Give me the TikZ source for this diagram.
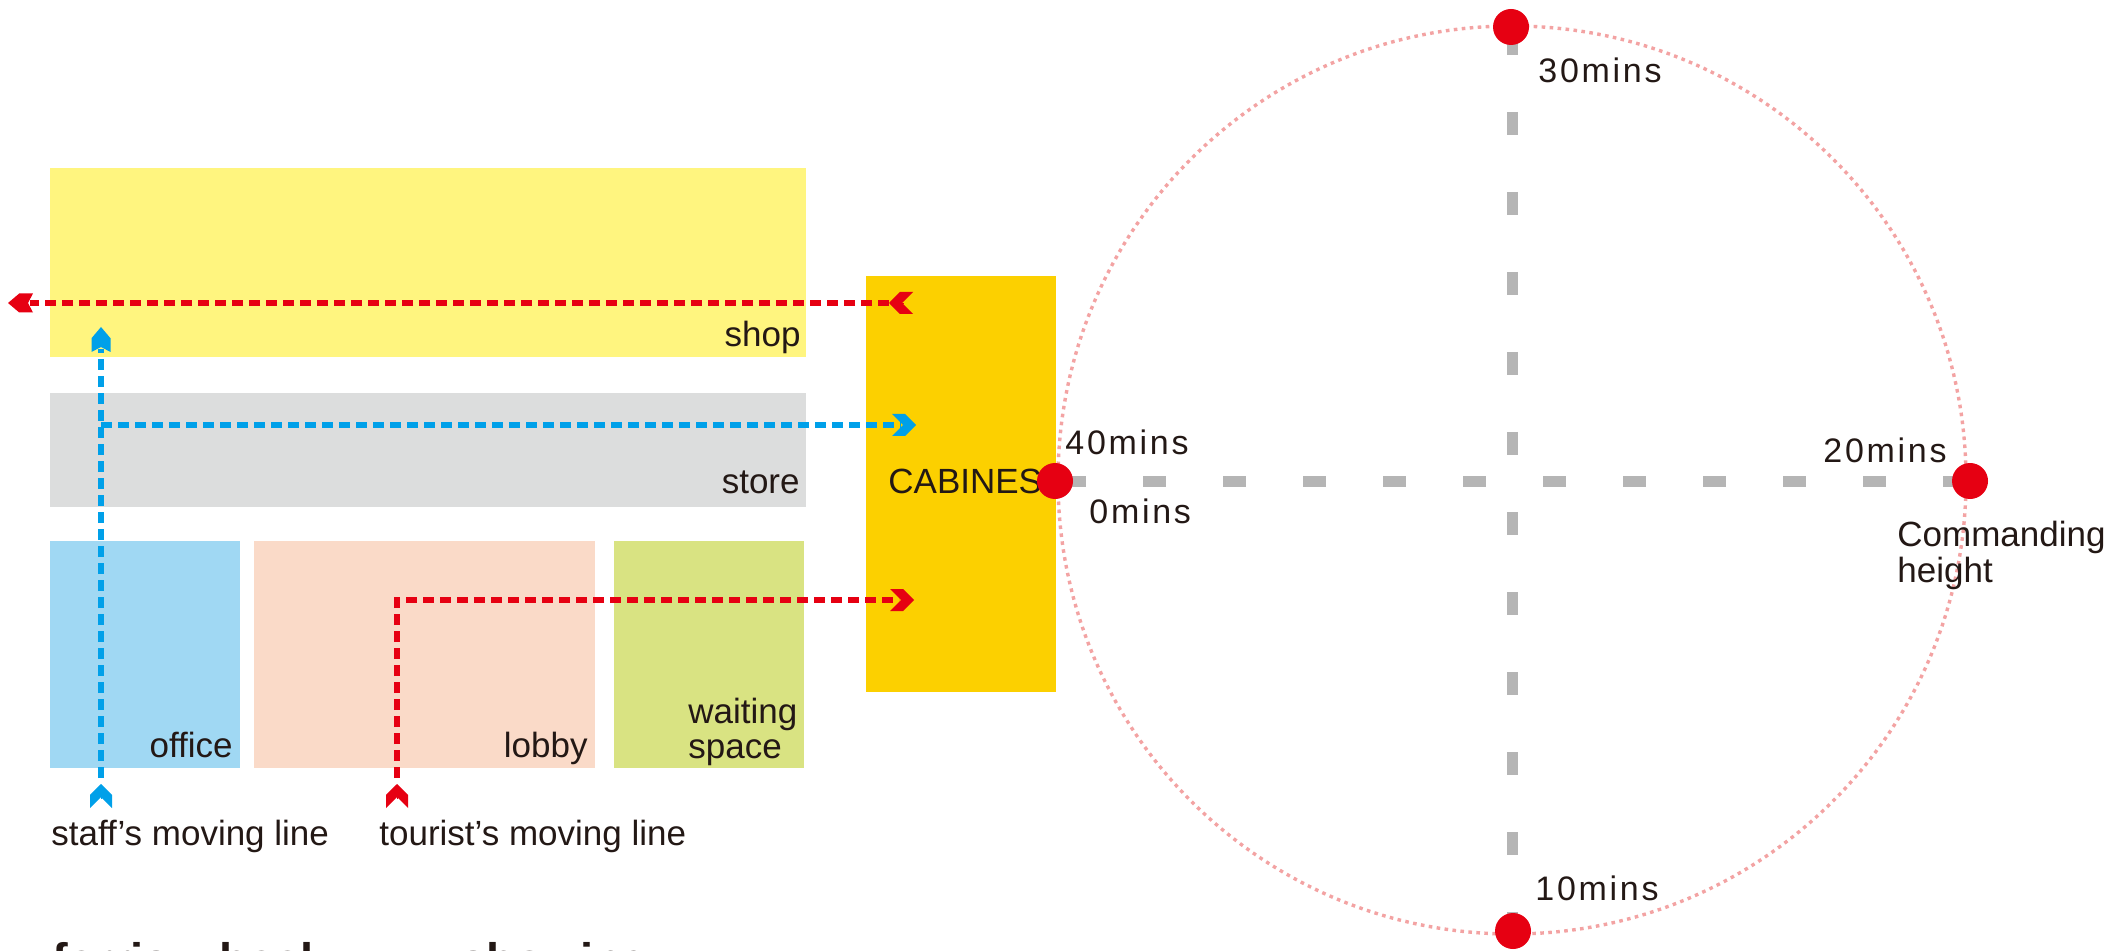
\documentclass[tikz,border=0pt]{standalone}
\usepackage{fontspec}
\setmainfont{Liberation Sans}
\usetikzlibrary{arrows.meta}
\pgfdeclarearrow{
  name = Chev,
  parameters = {\the\pgfarrowlength,\the\pgfarrowwidth,\the\pgfarrowinset},
  setup code = {
    \pgfarrowssettipend{0pt}
    \pgfarrowssetbackend{-\pgfarrowlength}
    \pgfarrowssetlineend{\dimexpr-\pgfarrowlength+\pgfarrowinset-1pt\relax}
    \pgfarrowssavethe\pgfarrowlength
    \pgfarrowssavethe\pgfarrowwidth
    \pgfarrowssavethe\pgfarrowinset
  },
  drawing code = {
    \pgfpathmoveto{\pgfqpoint{0pt}{0pt}}
    \pgfpathlineto{\pgfqpoint{-0.45\pgfarrowlength}{0.5\pgfarrowwidth}}
    \pgfpathlineto{\pgfqpoint{-\pgfarrowlength}{0.5\pgfarrowwidth}}
    \pgfpathlineto{\pgfqpoint{\dimexpr-\pgfarrowlength+\pgfarrowinset\relax}{0pt}}
    \pgfpathlineto{\pgfqpoint{-\pgfarrowlength}{-0.5\pgfarrowwidth}}
    \pgfpathlineto{\pgfqpoint{-0.45\pgfarrowlength}{-0.5\pgfarrowwidth}}
    \pgfpathclose
    \pgfusepathqfill
  },
  defaults = {length=12pt,width=11pt,inset=5.5pt}
}
\definecolor{cShop}{HTML}{FFF57F}
\definecolor{cStore}{HTML}{DCDDDD}
\definecolor{cOffice}{HTML}{A0D8F3}
\definecolor{cLobby}{HTML}{FADAC8}
\definecolor{cWait}{HTML}{D9E382}
\definecolor{cCab}{HTML}{FCD000}
\definecolor{cRed}{HTML}{E60012}
\definecolor{cBlue}{HTML}{00A0E9}
\definecolor{cAxis}{HTML}{B5B5B5}
\definecolor{cPink}{HTML}{F3A3A3}
\definecolor{cText}{HTML}{231815}
\begin{document}
\begin{tikzpicture}[x=0.5pt,y=-0.5pt,
  room/.style={rectangle,inner sep=0pt,outer sep=0pt,anchor=north west},
  lbl/.style={inner sep=0pt,text=cText,font=\fontsize{17.5pt}{21pt}\selectfont},
  minslbl/.style={inner sep=0pt,text=cText,font=\fontsize{17pt}{20pt}\selectfont\addfontfeatures{LetterSpace=8}},
  boldlbl/.style={inner sep=0pt,text=cText,font=\fontsize{23.5pt}{28pt}\selectfont\bfseries},
  flow/.style={line width=3pt,dash pattern=on 5.5pt off 3pt},
  lone/.style={line width=0.05pt},
  chev/.tip={Chev[length=12pt,width=11pt,inset=5.5pt]},
  headtip/.tip={Chev[length=12.5pt,width=9.5pt,inset=2.5pt]},
  dot/.style={circle,fill=cRed,minimum size=18pt,inner sep=0pt},
  axis/.style={cAxis,line width=5.5pt,dash pattern=on 11.5pt off 28.5pt}
]
\useasboundingbox (0,0) rectangle (2112,951);
\clip (0,0) rectangle (2112,951);

% rooms
\node[room,fill=cShop,minimum width=378pt,minimum height=94.5pt] (shop) at (50,168) {};
\node[room,fill=cStore,minimum width=378pt,minimum height=57pt] (store) at (50,393) {};
\node[room,fill=cOffice,minimum width=95pt,minimum height=113.5pt] (office) at (50,541) {};
\node[room,fill=cLobby,minimum width=170.5pt,minimum height=113.5pt] (lobby) at (254,541) {};
\node[room,fill=cWait,minimum width=95pt,minimum height=113.5pt] (waiting) at (614,541) {};
\node[room,fill=cCab,minimum width=95pt,minimum height=208pt] (cab) at (866,276) {};

% room labels
\node[lbl,anchor=base east] (lshop) at (801,347) {shop};
\node[lbl,anchor=base east] (lstore) at (800,493) {store};
\node[lbl,anchor=base east] (loffice) at (233,757) {office};
\node[lbl,anchor=base east] (llobby) at (588,757) {lobby};
\node[lbl,anchor=base west] (lwait1) at (688,723) {waiting};
\node[lbl,anchor=base west] (lwait2) at (688,758) {space};
\node[lbl,anchor=base west] (lcab) at (888,493) {CABINES};
\node[lbl,anchor=base west] (lstaff) at (51,845) {staff’s moving line};
\node[lbl,anchor=base west] (ltour) at (379,845) {tourist’s moving line};
\node[boldlbl,anchor=base west] (lferris) at (52,976) {ferris wheel};
\node[boldlbl,anchor=base west] (lshow) at (460,976) {showing};

% wheel
\node[circle,draw=cPink,line width=1.7pt,dash pattern=on 1.8pt off 2.2pt,minimum size=454pt,inner sep=0pt] (wheel) at (1512,480) {};
\coordinate (ax0) at (1063,481);
\coordinate (ax20) at (1975,481);
\coordinate (ax30) at (1512,32);
\coordinate (ax10) at (1512,940);
\draw[axis] (ax0) -- (ax20);
\draw[axis] (ax30) -- (ax10);
\node[dot] (p0) at (1055,481) {};
\node[dot] (p20) at (1970,481) {};
\node[dot] (p30) at (1511,27) {};
\node[dot] (p10) at (1513,931) {};

\node[minslbl,anchor=base west] (l30) at (1538,83) {30mins};
\node[minslbl,anchor=base west] (l40) at (1065,454) {40mins};
\node[minslbl,anchor=base west] (l0) at (1089,523) {0mins};
\node[minslbl,anchor=base west] (l20) at (1823,462) {20mins};
\node[minslbl,anchor=base west] (l10) at (1535,900) {10mins};
\node[lbl,anchor=base west] (lcom1) at (1897,546) {Commanding};
\node[lbl,anchor=base west] (lcom2) at (1897,582) {height};

% staff's moving line (blue)
\coordinate (b0) at (101,796);
\coordinate (b1) at (101,784);
\coordinate (b2) at (101,778);
\coordinate (b3) at (101,327);
\coordinate (bj) at (101,425);
\coordinate (b4) at (916,425);
\draw[cBlue,lone,-{chev}] (b0) -- (b1);
\draw[cBlue,flow,-{headtip}] (b2) -- (b3);
\draw[cBlue,flow,-{chev}] (bj) -- (b4);

% tourist's moving line (red)
\coordinate (t0) at (397,796);
\coordinate (t1) at (397,784);
\coordinate (t2) at (397,778);
\coordinate (tc) at (397,600);
\coordinate (t3) at (914,600);
\draw[cRed,lone,-{chev}] (t0) -- (t1);
\draw[cRed,flow,-{chev}] (t2) -- (tc) -- (t3);
\coordinate (s0) at (901,303);
\coordinate (s1) at (889,303);
\coordinate (s2) at (8,303);
\draw[cRed,lone,-{chev}] (s0) -- (s1);
\draw[cRed,flow,-{headtip}] (s1) -- (s2);
\end{tikzpicture}
\end{document}
